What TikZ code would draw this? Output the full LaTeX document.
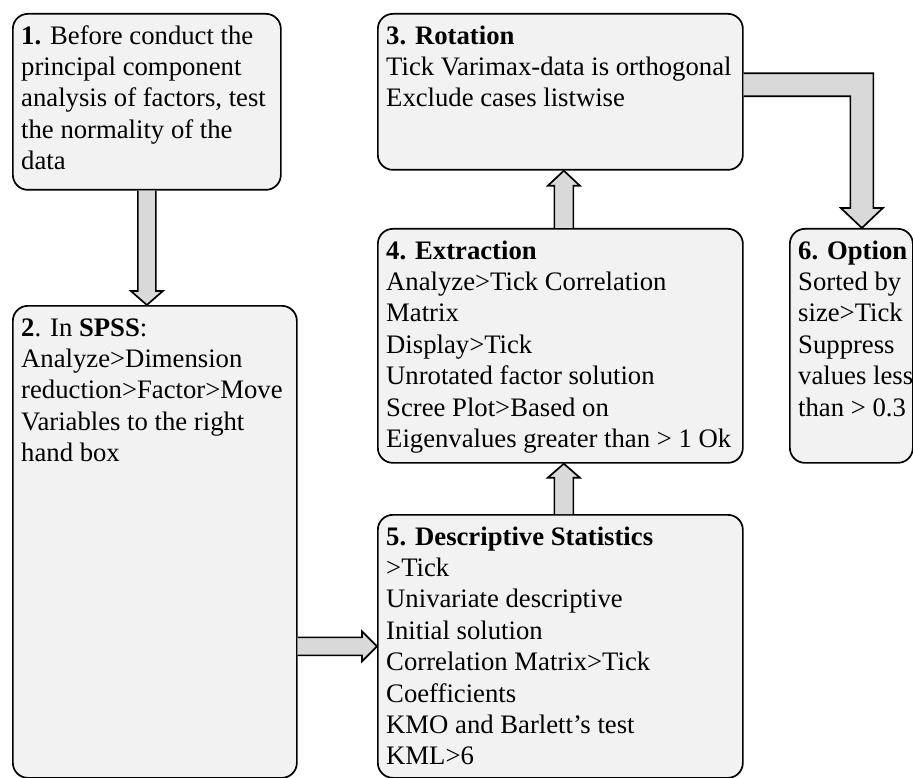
\documentclass[tikz,border=0pt]{standalone}
\usepackage{fontspec}
\setmainfont{Liberation Serif}
\usetikzlibrary{calc}

\definecolor{boxgray}{HTML}{F2F2F2}
\definecolor{arrowgray}{HTML}{D9D9D9}

\begin{document}
\begin{tikzpicture}[x=1pt, y=1pt,
    % Define the style for the step boxes
    stepbox/.style={draw, line width=1.7pt, fill=boxgray, rounded corners=15pt,
        anchor=north west, inner sep=0pt},
    steptext/.style={anchor=north west, align=left, inner sep=9pt,
        font=\fontsize{26.7}{31.4}\selectfont},
    % Define the style for the block arrows
    blockarrow/.style={draw, line width=1.7pt, fill=arrowgray, line join=miter}
]
\useasboundingbox (0,0) rectangle (913,-778);

% Define the boxes
\node[stepbox, minimum width=268, minimum height=176] (b1) at (12,-13) {};
\node[stepbox, minimum width=284, minimum height=472] (b2) at (12,-305) {};
\node[stepbox, minimum width=365, minimum height=156] (b3) at (377,-13) {};
\node[stepbox, minimum width=365, minimum height=234] (b4) at (377,-228) {};
\node[stepbox, minimum width=365, minimum height=263] (b5) at (377,-514) {};
\node[stepbox, minimum width=123, minimum height=234] (b6) at (789,-228) {};

% Add the texts
\node[steptext] (t1) at (b1.north west) {\strut\textbf{1.} Before conduct the\\
    principal component\\analysis of factors, test\\the normality of the\\data};
\node[steptext] (t2) at (b2.north west) {\strut\textbf{2}. In \textbf{SPSS}:\\
    Analyze>Dimension\\reduction>Factor>Move\\Variables to the right\\hand box};
\node[steptext] (t3) at (b3.north west) {\strut\textbf{3. Rotation}\\
    Tick Varimax-data is orthogonal\\Exclude cases listwise};
\node[steptext] (t4) at (b4.north west) {\strut\textbf{4. Extraction}\\
    Analyze>Tick Correlation\\Matrix\\Display>Tick\\Unrotated factor solution\\
    Scree Plot>Based on\\Eigenvalues greater than > 1 Ok};
\node[steptext] (t5) at (b5.north west) {\strut\textbf{5. Descriptive Statistics}\\
    >Tick\\Univariate descriptive\\Initial solution\\Correlation Matrix>Tick\\
    Coefficients\\KMO and Barlett's test\\KML>6};
\node[steptext] (t6) at (b6.north west) {\strut\textbf{6. Option}\\
    Sorted by\\size>Tick\\Suppress\\values less\\than > 0.3};

% Arrow tips
\coordinate (h12) at (b1.south |- b2.north);
\coordinate (h43) at ($(b3.south)+(3.5,0)$);
\coordinate (h54) at ($(b4.south)+(3.5,0)$);
\coordinate (h25) at (b5.west);
\coordinate (e0) at ($(b3.east)+(0,7)$);
\coordinate (h36) at ($(b6.north)+(10.5,0)$);

% Draw the block arrows
\draw[blockarrow] ($(b1.south)+(-9,0)$) -- ($(h12)+(-9,14)$) -- ($(h12)+(-16,14)$)
    -- (h12) -- ($(h12)+(16,14)$) -- ($(h12)+(9,14)$) -- ($(b1.south)+(9,0)$);
\draw[blockarrow] ($(h43 |- b4.north)+(-9.5,0)$) -- ($(h43)+(-9.5,-15)$) -- ($(h43)+(-16,-15)$)
    -- (h43) -- ($(h43)+(16,-15)$) -- ($(h43)+(9.5,-15)$) -- ($(h43 |- b4.north)+(9.5,0)$);
\draw[blockarrow] ($(h54 |- b5.north)+(-9.5,0)$) -- ($(h54)+(-9.5,-14)$) -- ($(h54)+(-16,-14)$)
    -- (h54) -- ($(h54)+(16,-14)$) -- ($(h54)+(9.5,-14)$) -- ($(h54 |- b5.north)+(9.5,0)$);
\draw[blockarrow] ($(b2.east |- h25)+(0,9)$) -- ($(h25)+(-15,9)$) -- ($(h25)+(-15,15)$)
    -- (h25) -- ($(h25)+(-15,-15)$) -- ($(h25)+(-15,-9)$) -- ($(b2.east |- h25)+(0,-9)$);
\draw[blockarrow] ($(e0)+(0,11.5)$) -- ($(h36 |- e0)+(11.5,11.5)$) -- ($(h36)+(11.5,20)$)
    -- ($(h36)+(21,20)$) -- (h36) -- ($(h36)+(-21,20)$) -- ($(h36)+(-11.5,20)$)
    -- ($(h36 |- e0)+(-11.5,-11.5)$) -- ($(e0)+(0,-11.5)$);

\end{tikzpicture}
\end{document}
